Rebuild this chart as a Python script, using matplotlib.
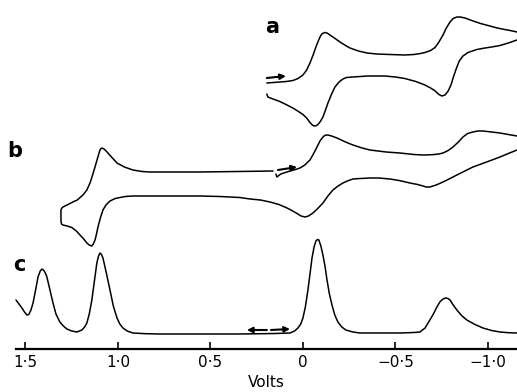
"""Cyclic voltammograms (a, b) and differential pulse trace (c) versus potential."""

import matplotlib

matplotlib.use("Agg")

import matplotlib.pyplot as plt
from matplotlib.ticker import FixedLocator, FuncFormatter

# ---- data (potential in V, current in arbitrary units) ----
a_fwd_v = [0.195, 0.16, 0.124, 0.09, 0.054, 0.027, 0.0, -0.02, -0.038, -0.055, -0.07,
           -0.085, -0.095, -0.105, -0.118, -0.130, -0.150, -0.17, -0.20, -0.23, -0.254,
           -0.30, -0.346, -0.40, -0.47, -0.551, -0.60, -0.635, -0.66, -0.69, -0.714,
           -0.735, -0.757, -0.775, -0.795, -0.812, -0.832, -0.85, -0.876, -0.92, -0.96,
           -1.0, -1.04, -1.076, -1.12, -1.157]
a_fwd_i = [-17, -16.5, -16, -15.5, -14.5, -12.5, -9, -4, 3, 11, 19, 26, 30, 32.5, 33.5,
           33, 30.5, 28, 24, 20.5, 18, 15, 13, 12, 11.5, 11, 11.5, 12.5, 13.5, 15.5,
           18.5, 24, 31, 38, 44, 47.5, 49, 49, 48, 45, 42.5, 40.5, 38.5, 37, 35.5, 34]
a_rev_v = [-1.157, -1.11, -1.065, -1.02, -0.984, -0.94, -0.892, -0.865, -0.845, -0.83,
           -0.815, -0.8, -0.785, -0.768, -0.751, -0.735, -0.715, -0.69, -0.659, -0.61,
           -0.551, -0.50, -0.443, -0.35, -0.270, -0.235, -0.216, -0.195, -0.173,
           -0.155, -0.135, -0.12, -0.108, -0.094, -0.081, -0.07, -0.059, -0.048,
           -0.038, -0.02, 0.0, 0.016, 0.05, 0.086, 0.125, 0.162, 0.19, 0.195]
a_rev_i = [26, 23, 20.5, 19, 18, 16.5, 13.5, 10, 5, -2, -10, -19, -25, -29, -30, -28.5,
           -25, -22, -19, -15.5, -12.5, -11, -10, -10, -11, -11.5, -13, -16, -21, -28,
           -37, -45, -51, -55.5, -58.5, -59.8, -60, -58.5, -56.5, -52, -48.5, -46.5,
           -42.5, -39, -35.5, -33, -31, -28]

b_fwd_v = [0.146, 0.141, 0.12, 0.095, 0.070, 0.04, 0.016, -0.01, -0.038, -0.055,
           -0.076, -0.092, -0.108, -0.12, -0.135, -0.155, -0.184, -0.23, -0.270, -0.32,
           -0.362, -0.45, -0.524, -0.60, -0.649, -0.70, -0.735, -0.757, -0.785, -0.811,
           -0.84, -0.865, -0.89, -0.919, -0.945, -0.973, -1.02, -1.065, -1.11, -1.157]
b_fwd_i = [-9, -12, -9, -7.5, -6, -4.5, -3, 0, 5, 10.5, 18, 24, 28, 29.8, 30, 29, 27,
           23, 20, 17, 15, 13, 12, 10.5, 10, 10.3, 11, 12, 14.5, 18, 23, 28, 31.5, 33,
           34, 34, 33, 32, 30.5, 29]
b_rev_v = [-1.157, -1.11, -1.065, -1.0, -0.919, -0.875, -0.832, -0.795, -0.757, -0.72,
           -0.686, -0.665, -0.649, -0.62, -0.578, -0.52, -0.470, -0.41, -0.362, -0.31,
           -0.270, -0.24, -0.216, -0.19, -0.162, -0.135, -0.108, -0.08, -0.054, -0.03,
           -0.011, 0.01, 0.032, 0.06, 0.086, 0.13, 0.178, 0.23, 0.286, 0.341, 0.45,
           0.557, 0.75, 0.919, 0.96, 0.989, 1.015, 1.043, 1.065, 1.081, 1.095, 1.108,
           1.117, 1.124, 1.133, 1.141, 1.155, 1.168, 1.185, 1.205, 1.225, 1.249, 1.275,
           1.297, 1.305, 1.308, 1.308, 1.303, 1.297, 1.27, 1.249, 1.22, 1.189, 1.168,
           1.151, 1.137, 1.124, 1.11, 1.097, 1.091, 1.086, 1.075, 1.059, 1.035, 1.005,
           0.965, 0.919, 0.87, 0.827, 0.7, 0.557, 0.35, 0.162]
b_rev_i = [15, 11.5, 8, 3.5, -2, -6, -10, -13.5, -17, -20, -22, -22, -21, -19.5, -18,
           -15.5, -14, -13, -13, -13.5, -14, -16, -18, -21, -25, -31, -38, -43.5, -48,
           -51, -52, -51, -48.5, -45.5, -43, -39.5, -37, -35, -34, -32.5, -31.5, -31,
           -31, -31, -31.5, -32.5, -33.5, -36, -40, -45, -53, -62, -70, -75, -79, -81,
           -80, -78, -74, -70, -66, -62.5, -61, -60, -59, -56, -45, -43, -42, -39.5,
           -37.5, -35, -30, -25, -18, -10, -2, 7, 15, 16.5, 17, 16, 13, 8, 2, -2, -5,
           -6.5, -7, -7, -7, -6.5, -6]

c_v = [1.551, 1.535, 1.519, 1.505, 1.492, 1.482, 1.47, 1.459, 1.445, 1.432, 1.42,
       1.411, 1.40, 1.39, 1.384, 1.37, 1.351, 1.335, 1.314, 1.295, 1.276, 1.25, 1.222,
       1.195, 1.18, 1.168, 1.155, 1.141, 1.128, 1.114, 1.105, 1.097, 1.089, 1.081,
       1.065, 1.043, 1.025, 1.005, 0.99, 0.973, 0.95, 0.919, 0.85, 0.773, 0.341, 0.15,
       0.070, 0.045, 0.027, 0.012, 0.0, -0.013, -0.027, -0.038, -0.049, -0.06, -0.070,
       -0.078, -0.086, -0.097, -0.108, -0.12, -0.130, -0.143, -0.157, -0.172, -0.189,
       -0.21, -0.232, -0.27, -0.308, -0.524, -0.60, -0.632, -0.66, -0.686, -0.705,
       -0.724, -0.74, -0.751, -0.762, -0.773, -0.784, -0.795, -0.812, -0.832, -0.86,
       -0.886, -0.93, -0.973, -1.02, -1.065, -1.11, -1.157]
c_i = [34, 30, 26, 22, 19, 19.5, 24, 31, 44, 57, 63, 65, 63.5, 60, 57, 46, 31, 20, 12,
       8, 5, 3, 2, 4, 7, 11, 20, 34, 52, 71, 78, 81, 79.5, 76, 63, 44, 28, 16, 10, 6,
       3, 1, 0.3, 0, 0, 0.5, 1, 3, 6, 10, 16, 27, 44, 60, 76, 87, 93, 94.5, 94, 88,
       79, 67, 54, 40, 29, 19, 12, 7, 4, 2, 1, 1, 1.5, 2, 6, 14, 20, 27, 32, 34,
       35.5, 36, 35.5, 34, 29, 24, 18, 14, 9.5, 6, 3.5, 2, 1.3, 1]

tick_volts = [1.5, 1.0, 0.5, 0.0, -0.5, -1.0]

# vertical placement of each trace in the stacked plot
OFF_A, OFF_B, OFF_C = 283, 184, 15
LW = 1.1
line = dict(color="black", lw=LW, clip_on=False, solid_joinstyle="round",
            solid_capstyle="round")

fig = plt.figure(figsize=(5.17, 3.92), dpi=100, facecolor="white")
ax = fig.add_axes([16 / 517, 43 / 392, 501 / 517, 349 / 392])
ax.set_xlim(1.551, -1.157)
ax.set_ylim(0, 349)

ax.plot(a_fwd_v, [OFF_A + i for i in a_fwd_i], **line)
ax.plot(a_rev_v, [OFF_A + i for i in a_rev_i], **line)
ax.plot(b_fwd_v, [OFF_B + i for i in b_fwd_i], **line)
ax.plot(b_rev_v, [OFF_B + i for i in b_rev_i], **line)
ax.plot(c_v, [OFF_C + i for i in c_i], **line)

# scan direction arrows
arrow = dict(arrowstyle="-|>", color="black", lw=1.5, mutation_scale=8,
             shrinkA=0, shrinkB=0)
ax.annotate("", xy=(0.092, OFF_A - 10), xytext=(0.195, OFF_A - 12), arrowprops=arrow)
ax.annotate("", xy=(0.032, OFF_B - 2), xytext=(0.135, OFF_B - 5), arrowprops=arrow)
ax.annotate("", xy=(0.303, OFF_C + 4), xytext=(0.195, OFF_C + 4), arrowprops=arrow)
ax.annotate("", xy=(0.070, OFF_C + 5), xytext=(0.173, OFF_C + 4), arrowprops=arrow)

# trace labels
for lbl, x, y in [("a", 272, 27), ("b", 15, 151), ("c", 19, 265)]:
    fig.text(x / 517, 1 - y / 392, lbl, fontsize=15, fontweight="bold",
             ha="center", va="center")

for side in ("left", "right", "top"):
    ax.spines[side].set_visible(False)
ax.spines["bottom"].set_linewidth(1.6)
ax.yaxis.set_visible(False)
ax.xaxis.set_major_locator(FixedLocator(tick_volts))


def fmt(v, pos):
    if abs(v) < 1e-9:
        return "0"
    return f"{v:.1f}".replace(".", "\u00b7").replace("-", "\u2212")


ax.xaxis.set_major_formatter(FuncFormatter(fmt))
ax.tick_params(axis="x", direction="in", length=5, width=1.2, labelsize=11, pad=4)
ax.set_xlabel("Volts", fontsize=11, labelpad=4)
ax.patch.set_alpha(0)

fig.savefig("out.png", dpi=100, facecolor="white")
